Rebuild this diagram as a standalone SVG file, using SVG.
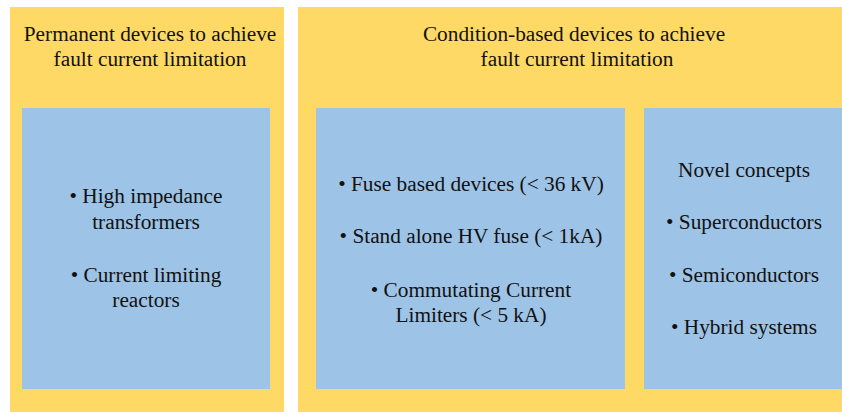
<svg xmlns="http://www.w3.org/2000/svg" width="842" height="412" viewBox="0 0 842 412">
<style>
.outer{fill:#FFD966}
.inner{fill:#9DC3E6}
.t{font-size:21.3px;fill:#111;text-anchor:middle}
</style>
<rect width="842" height="412" fill="#fff"/>
<g font-family="'Liberation Serif', 'Times New Roman', Times, serif">
<g id="permanent">
<rect class="outer" x="10" y="7" width="274" height="406"/>
<text class="t" x="150" y="41">Permanent devices to achieve</text>
<text class="t" x="150" y="66">fault current limitation</text>
</g>
<g id="condition">
<rect class="outer" x="298" y="7" width="546" height="406"/>
<text class="t" x="574" y="41">Condition-based devices to achieve</text>
<text class="t" x="577" y="66">fault current limitation</text>
</g>
<g id="permanent-list">
<rect class="inner" x="22" y="108" width="248" height="281"/>
<text class="t" x="146" y="203">• High impedance</text>
<text class="t" x="146" y="229">transformers</text>
<text class="t" x="146" y="282">• Current limiting</text>
<text class="t" x="146" y="307">reactors</text>
</g>
<g id="fuse-list">
<rect class="inner" x="316" y="108" width="309" height="281"/>
<text class="t" x="471" y="191">• Fuse based devices (&lt; 36 kV)</text>
<text class="t" x="471" y="243">• Stand alone HV fuse (&lt; 1kA)</text>
<text class="t" x="471" y="297">• Commutating Current</text>
<text class="t" x="471" y="322">Limiters (&lt; 5 kA)</text>
</g>
<g id="novel">
<rect class="inner" x="644" y="108" width="200" height="281"/>
<text class="t" x="744" y="177">Novel concepts</text>
<text class="t" x="744" y="229">• Superconductors</text>
<text class="t" x="744" y="282">• Semiconductors</text>
<text class="t" x="744" y="334">• Hybrid systems</text>
</g>
</g>
<g id="connectors"/>
</svg>
